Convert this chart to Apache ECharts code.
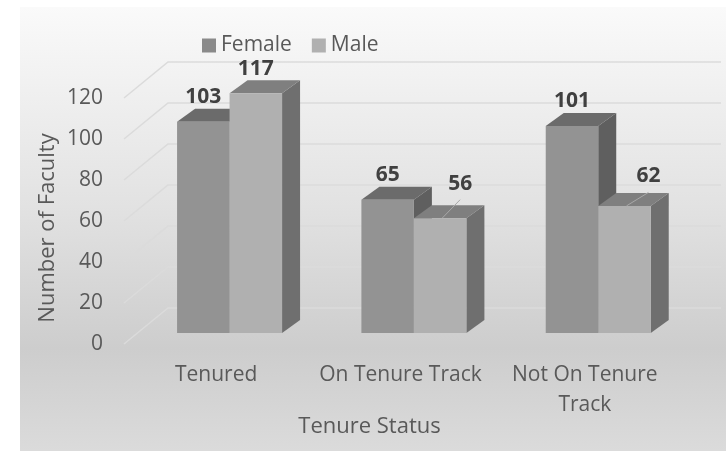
<!DOCTYPE html>
<html>
<head>
<meta charset="utf-8">
<style>
  html, body { margin: 0; padding: 0; background: #fff; }
  #chart { width: 726px; height: 451px; }
</style>
<script src="https://cdn.jsdelivr.net/npm/echarts@6/dist/echarts.min.js"></script>
</head>
<body>
<div id="chart"></div>
<script>
const categories = ['Tenured', 'On Tenure Track', 'Not On Tenure\nTrack']
const female = [103, 65, 101]
const male = [117, 56, 62]
const yTicks = [0, 20, 40, 60, 80, 100, 120]

const font = '"Open Sans", "Noto Sans", sans-serif'
const textColor = '#595959'

// 3d look: how far the walls and the bars sit behind the front plane, in px
const floorDepth = [44, -36]
const barInset = [13.4, -11]
const barDepth = [18, -13]
const barWidth = 52.5

// labels that were dragged away from their bar in the original, [dx, dy] per category
const femaleLabelShift = [[0, 0], [0, 0], [0, 0]]
const maleLabelShift = [[0, 0], [20, -10], [24, -5]]

const chart = echarts.init(document.getElementById('chart'))

function renderWall (params, api) {
  const box = params.coordSys
  const v = api.value(0)
  const y = api.coord([0, v])[1]
  const left = box.x
  const right = box.x + box.width + floorDepth[0]
  return {
    type: 'polyline',
    shape: {
      points: [
        [left, y],
        [left + floorDepth[0], y + floorDepth[1]],
        [right, y + floorDepth[1]]
      ]
    },
    style: { stroke: '#dbdbdb', lineWidth: 1.5, fill: null }
  }
}

// side: -1 is the left bar of a pair, 0 the right one
function barRenderer (side, colors, shifts) {
  return function (params, api) {
    const i = api.value(0)
    const val = api.value(1)
    const top = api.coord([i, val])
    const base = api.coord([i, 0])
    const x0 = top[0] + barInset[0] + side * barWidth
    const x1 = x0 + barWidth
    const y0 = base[1] + barInset[1]
    const y1 = top[1] + barInset[1]
    const dx = barDepth[0]
    const dy = barDepth[1]
    const shift = shifts[i]
    const labelX = (x0 + x1) / 2 + shift[0]
    const labelY = y1 - 24.5 + shift[1]
    const children = [
      {
        type: 'polygon',
        shape: { points: [[x1, y0], [x1 + dx, y0 + dy], [x1 + dx, y1 + dy], [x1, y1]] },
        style: { fill: colors.side }
      },
      {
        type: 'polygon',
        shape: { points: [[x0, y1], [x0 + dx, y1 + dy], [x1 + dx, y1 + dy], [x1, y1]] },
        style: { fill: colors.top }
      },
      {
        type: 'rect',
        shape: { x: x0, y: y1, width: barWidth, height: y0 - y1 },
        style: { fill: colors.front }
      }
    ]
    // leader line for moved labels
    if (shift[0] !== 0) {
      children.push({
        type: 'line',
        shape: { x1: (x0 + x1) / 2 + 2, y1: y1, x2: labelX, y2: labelY + 16 },
        style: { stroke: '#a8a8a8', lineWidth: 1 }
      })
    }
    children.push({
      type: 'text',
      style: {
        x: labelX,
        y: labelY,
        text: String(val),
        align: 'center',
        verticalAlign: 'middle',
        font: 'bold 21px ' + font,
        fill: '#404040'
      }
    })
    return { type: 'group', children }
  }
}

const option = {
  animation: false,
  graphic: [
    {
      type: 'rect',
      z: 0,
      silent: true,
      shape: { x: 20, y: 7, width: 706, height: 444 },
      style: {
        fill: new echarts.graphic.LinearGradient(0, 0, 0, 1, [
          { offset: 0, color: '#fafafa' },
          { offset: 0.45, color: '#e2e2e2' },
          { offset: 0.77, color: '#cdcdcd' },
          { offset: 1, color: '#dbdbdb' }
        ])
      }
    }
  ],
  legend: {
    left: 197,
    top: 30,
    itemWidth: 14,
    itemHeight: 14,
    itemGap: 20,
    icon: 'rect',
    data: ['Female', 'Male'],
    textStyle: { fontFamily: font, fontSize: 21, color: textColor }
  },
  grid: { left: 124, right: 49, top: 98, bottom: 107 },
  xAxis: {
    type: 'category',
    data: categories,
    name: 'Tenure Status',
    nameLocation: 'middle',
    nameGap: 72,
    nameMoveOverlap: false,
    nameTextStyle: { fontFamily: font, fontSize: 22, color: textColor, padding: [0, 62, 0, 0] },
    axisLine: { show: false },
    axisTick: { show: false },
    axisLabel: { margin: 16, fontFamily: font, fontSize: 21, color: textColor, lineHeight: 30, interval: 0 }
  },
  yAxis: {
    type: 'value',
    min: 0,
    max: 120,
    interval: 20,
    name: 'Number of Faculty',
    nameLocation: 'middle',
    nameGap: 65,
    nameMoveOverlap: false,
    nameTextStyle: { fontFamily: font, fontSize: 22, color: textColor, padding: [0, 0, 0, -14] },
    axisLine: { show: false },
    axisTick: { show: false },
    splitLine: { show: false },
    axisLabel: { margin: 21, padding: [10, 0, 0, 0], fontFamily: font, fontSize: 21, color: textColor }
  },
  series: [
    {
      name: 'walls',
      type: 'custom',
      renderItem: renderWall,
      encode: { y: 0 },
      data: yTicks.map(v => [v]),
      silent: true,
      z: 1
    },
    {
      name: 'Female',
      type: 'custom',
      renderItem: barRenderer(-1, { front: '#939393', side: '#5f5f5f', top: '#6b6b6b' }, femaleLabelShift),
      encode: { x: 0, y: 1 },
      itemStyle: { color: '#8a8a8a' },
      data: female.map((v, i) => [i, v]),
      z: 2
    },
    {
      name: 'Male',
      type: 'custom',
      renderItem: barRenderer(0, { front: '#b0b0b0', side: '#6f6f6f', top: '#7f7f7f' }, maleLabelShift),
      encode: { x: 0, y: 1 },
      itemStyle: { color: '#b0b0b0' },
      data: male.map((v, i) => [i, v]),
      z: 3
    }
  ]
}

chart.setOption(option)
</script>
</body>
</html>
